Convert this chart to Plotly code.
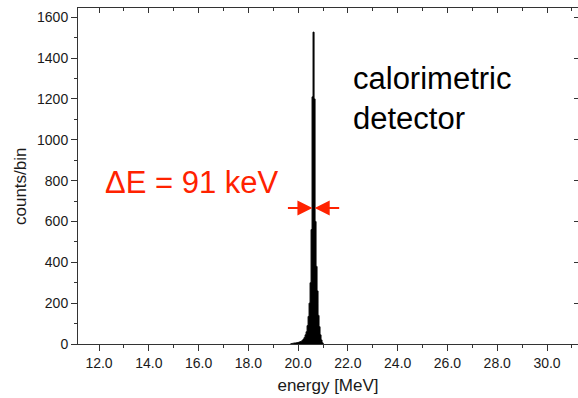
import plotly.graph_objects as go

# Histogram bin centres (MeV) and counts per bin
energy_mev = [19.70, 19.74, 19.78, 19.82, 19.86, 19.90, 19.94, 19.98, 20.02, 20.06,
              20.10, 20.14, 20.18, 20.22, 20.26, 20.30, 20.34, 20.38, 20.42, 20.46,
              20.50, 20.54, 20.58, 20.62, 20.66, 20.70, 20.74, 20.78, 20.82, 20.86,
              20.90, 20.94, 20.98, 21.02]
counts = [2, 2, 3, 4, 5, 5, 6, 7, 8, 10,
          12, 14, 18, 24, 32, 45, 60, 90, 135, 200,
          300, 560, 1210, 1527, 1200, 600, 380, 260, 140, 85,
          45, 20, 6, 2]

x_ticks = [12.0, 14.0, 16.0, 18.0, 20.0, 22.0, 24.0, 26.0, 28.0, 30.0]
y_ticks = [0, 200, 400, 600, 800, 1000, 1200, 1400, 1600]

peak_energy = 20.62   # MeV
fwhm = 0.091          # MeV (91 keV)
arrow_level = 666     # counts/bin at which the FWHM arrows are drawn

x_range = [11.156, 31.245]
y_range = [0, 1645]

font_family = "Arial, Liberation Sans, sans-serif"
axis_color = "#333333"
red = "#ff2200"

fig = go.Figure()
fig.add_trace(go.Scatter(
    x=energy_mev, y=counts, mode="lines", line_shape="hvh",
    line=dict(color="black", width=1), fill="tozeroy", fillcolor="black",
    showlegend=False, hoverinfo="x+y"))
# helper trace to anchor the mirrored (top/right) axes
fig.add_trace(go.Scatter(x=[peak_energy], y=[0], xaxis="x2", yaxis="y2",
                         mode="markers", marker=dict(opacity=0),
                         showlegend=False, hoverinfo="skip"))

fig.update_layout(
    width=578, height=398,
    margin=dict(l=78, r=0, t=8, b=54),
    paper_bgcolor="white", plot_bgcolor="white",
    font=dict(family=font_family, size=14, color="#1a1a1a"),
    xaxis=dict(range=x_range, tickvals=x_ticks, ticktext=[f"{v:.1f}" for v in x_ticks],
               ticks="outside", ticklen=6, tickcolor=axis_color, tickwidth=1,
               minor=dict(ticks="outside", ticklen=3, dtick=1, tick0=11, tickcolor=axis_color),
               showline=True, linecolor=axis_color, linewidth=1,
               showgrid=False, zeroline=False,
               title=dict(text="energy [MeV]", font=dict(size=17), standoff=9)),
    yaxis=dict(range=y_range, tickvals=y_ticks,
               ticks="outside", ticklen=6, tickcolor=axis_color, tickwidth=1,
               minor=dict(ticks="outside", ticklen=3, dtick=100, tick0=0, tickcolor=axis_color),
               showline=True, linecolor=axis_color, linewidth=1,
               showgrid=False, zeroline=False),
    xaxis2=dict(range=x_range, overlaying="x", side="top", anchor="y",
                tickvals=x_ticks, ticks="inside", ticklen=5, tickcolor=axis_color,
                minor=dict(ticks="inside", ticklen=3, dtick=1, tick0=11, tickcolor=axis_color),
                showticklabels=False, showline=True, linecolor=axis_color,
                showgrid=False, zeroline=False),
    yaxis2=dict(range=y_range, overlaying="y", side="right", anchor="x",
                tickvals=y_ticks, ticks="inside", ticklen=4, tickcolor=axis_color,
                showticklabels=False, showline=True, linecolor=axis_color,
                showgrid=False, zeroline=False),
)

# y-axis title (placed slightly below the axis centre, as in the original)
fig.add_annotation(text="counts/bin", textangle=-90, xref="paper", yref="paper",
                   x=(20 - 78) / 500, y=1 - (186 - 8) / 336, xanchor="center", yanchor="middle",
                   showarrow=False, font=dict(size=17, color="#1a1a1a", family=font_family))

# Text labels
fig.add_annotation(text="calorimetric<br>detector", xref="paper", yref="paper",
                   x=(351 - 78) / 500, y=1 - (59 - 8) / 336, xanchor="left", yanchor="top",
                   align="left", showarrow=False,
                   font=dict(size=31, color="black", family=font_family))
fig.add_annotation(text="\u0394E = 91 keV", xref="paper", yref="paper",
                   x=(103 - 78) / 500, y=1 - (182 - 8) / 336, xanchor="left", yanchor="middle",
                   showarrow=False, font=dict(size=31, color=red, family=font_family))

# FWHM arrows
for tip, off in [(peak_energy - fwhm / 2, -26), (peak_energy + fwhm / 2, 26)]:
    fig.add_annotation(x=tip, y=arrow_level, xref="x", yref="y", ax=off, ay=0,
                       text="", showarrow=True, arrowhead=2, arrowsize=1.5,
                       arrowwidth=2, arrowcolor=red, standoff=0)

fig.write_html("out.html")
